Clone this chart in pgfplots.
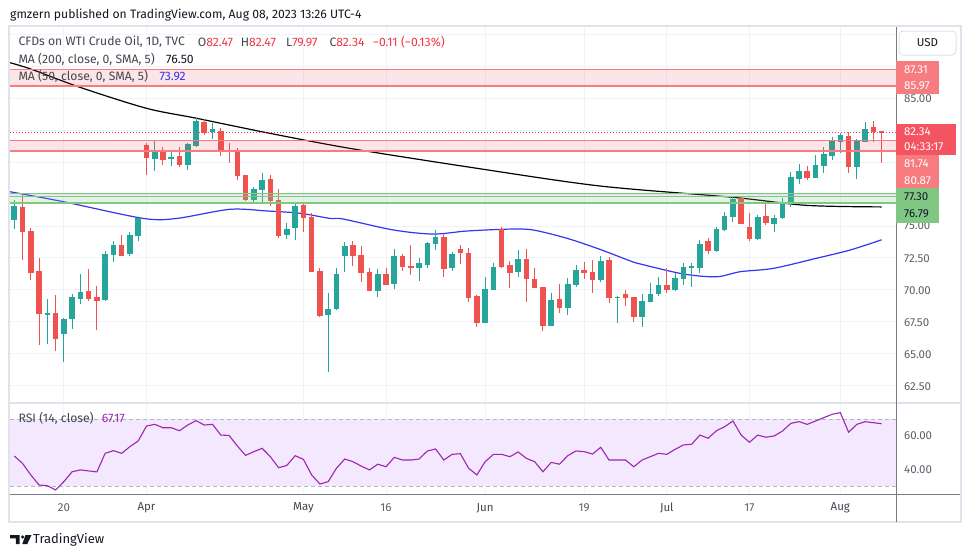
\documentclass[border=0pt]{standalone}
\usepackage{fontspec}
\setmainfont{Fira Sans}
\usepackage{pgfplots}
\usepackage{pgfplotstable}
\pgfplotsset{compat=1.18}

\definecolor{tvgreen}{HTML}{26A69A}
\definecolor{tvred}{HTML}{EF5350}
\definecolor{gridc}{HTML}{F0F3FA}
\definecolor{framec}{HTML}{E0E3EB}
\definecolor{scalec}{HTML}{787B86}
\definecolor{txt}{HTML}{131722}
\definecolor{legtxt}{HTML}{434651}
\definecolor{ticktxt}{HTML}{5D606B}
\definecolor{zonered}{HTML}{F77C80}
\definecolor{curred}{HTML}{F23645}
\definecolor{zonegreen}{HTML}{81C784}
\definecolor{ma50c}{HTML}{3535F2}
\definecolor{rsic}{HTML}{9C27B0}
\definecolor{rsifill}{HTML}{F3E8FD}
\definecolor{rsidash}{HTML}{B2B5BE}

% daily candles, index 0 = 10 Mar 2023, 105 = 8 Aug 2023
\pgfplotstableread{
i o h l c
0 75.47 77.04 74.76 76.57
4 68.04 69.27 65.75 68.18
6 66.55 67.81 64.36 67.71
7 67.73 69.67 66.95 69.45
8 69.30 71.24 68.90 69.82
11 69.20 73.04 69.14 72.80
12 72.75 73.82 72.20 73.51
14 72.83 74.55 72.67 74.29
15 74.24 75.65 73.85 75.60
17 80.28 81.75 79.31 80.96
19 80.28 80.88 79.73 80.41
21 79.78 81.53 79.39 81.45
22 81.30 83.45 81.22 83.26
24 82.37 83.10 81.82 82.61
29 77.02 78.04 76.78 77.88
30 77.82 79.18 76.73 78.61
33 74.29 75.21 73.98 74.74
34 74.84 76.83 73.90 76.57
38 68.02 69.72 63.57 68.49
39 68.51 71.68 68.40 71.24
40 72.65 73.77 71.42 73.46
44 69.93 71.63 69.45 71.24
46 70.47 73.17 70.06 72.65
49 71.73 72.47 70.71 72.10
50 71.94 73.77 71.73 73.69
51 73.59 74.69 73.12 74.16
53 71.71 72.98 71.50 72.80
57 67.42 70.97 67.42 70.06
58 70.00 72.12 69.98 71.78
61 71.42 73.12 71.02 72.41
65 67.18 69.77 67.18 69.20
67 68.59 70.90 68.02 70.45
68 70.37 71.94 70.24 71.55
71 70.76 72.65 70.60 72.25
73 69.38 69.48 67.42 69.43
76 67.89 69.67 67.10 69.12
77 69.06 70.53 69.02 69.67
78 69.67 71.00 69.49 70.35
80 69.98 71.29 69.88 70.90
81 70.84 72.07 70.37 71.81
82 71.68 72.12 70.24 71.89
83 71.73 73.90 71.29 73.59
85 73.07 74.95 72.98 74.76
86 74.71 76.07 74.63 75.78
87 75.73 77.25 75.34 77.14
90 74.00 75.86 73.90 75.70
92 75.18 75.86 74.55 75.60
93 75.60 77.17 75.55 76.73
94 76.90 79.24 76.51 78.84
95 78.71 79.86 78.29 79.31
97 78.79 80.57 78.74 79.78
98 79.73 81.22 79.13 80.65
99 80.51 82.00 80.18 81.75
100 81.61 82.27 80.70 82.16
102 79.65 81.80 78.69 81.67
103 81.61 83.16 81.61 82.61
}\upbars

\pgfplotstableread{
i o h l c
1 76.49 77.43 72.33 74.55
2 74.61 74.82 70.76 71.34
3 71.47 72.49 65.67 68.12
5 68.18 69.59 65.22 66.16
9 69.90 71.63 69.14 69.30
10 69.43 70.29 66.87 69.14
13 73.51 74.29 72.67 72.67
16 81.38 81.53 79.00 80.36
18 80.96 81.22 79.81 80.18
20 80.49 81.17 79.65 79.78
23 83.16 83.39 82.14 82.29
25 82.45 82.66 80.49 80.90
26 80.96 81.53 79.96 80.83
27 80.83 81.09 78.61 78.92
28 78.98 79.00 76.96 77.04
31 78.69 79.00 76.60 76.98
32 77.04 77.90 74.08 74.22
35 76.67 76.75 74.53 75.63
36 75.68 75.99 71.40 71.42
37 71.47 71.68 67.89 67.94
41 73.51 73.82 71.89 72.67
42 72.73 73.45 70.63 71.34
43 71.39 71.73 69.93 69.93
45 71.24 71.68 70.40 70.40
47 72.65 72.80 71.47 71.81
48 71.86 73.51 71.16 71.70
52 74.16 74.35 71.02 71.63
54 73.20 73.51 72.02 72.90
55 72.90 73.25 69.06 69.35
56 69.51 69.59 67.10 67.42
59 74.74 74.92 71.73 71.78
60 71.94 72.25 70.16 71.34
62 72.41 73.20 69.06 70.82
63 70.84 71.71 70.16 70.16
64 70.22 70.22 66.79 67.18
66 69.27 70.45 68.15 68.59
69 71.55 72.18 70.84 71.34
70 71.42 72.33 69.77 70.76
72 72.33 72.55 68.98 69.38
74 69.67 69.98 68.73 69.38
75 69.43 69.43 67.50 67.89
79 70.35 71.68 69.72 69.98
84 73.82 74.08 72.78 73.07
88 77.22 77.25 75.18 75.18
89 74.92 76.00 73.82 74.00
91 75.78 76.78 75.08 75.26
96 79.31 79.71 78.61 78.79
101 82.08 82.39 79.13 79.65
104 82.76 83.24 81.61 82.39
105 82.47 82.47 79.97 82.34
}\downbars

\pgfplotstableread{
i v
-0.52 87.81
2.11 87.29
7.95 85.88
16.03 84.23
22.08 83.45
30.56 82.32
40.64 81.09
55.78 79.55
70.90 78.14
87.05 77.25
95.93 76.62
105 76.50
}\masl

\pgfplotstableread{
i v
-0.52 77.69
5.93 76.91
15.6 75.60
19.7 75.60
26.1 76.31
30.6 76.18
34.6 76.00
38.2 75.60
39.8 75.55
45.9 74.69
50.7 74.37
54.8 74.61
60.0 74.76
62.8 74.69
66.9 74.04
70.9 73.17
74.5 72.28
75.8 72.02
81.0 71.24
85.0 71.02
87.9 71.42
91.9 71.68
97.1 72.47
101.2 73.12
105 73.92
}\mafs

\pgfplotstableread{
i r
0 47.9
1 43.5
2 36.6
3 30.6
4 30.2
5 27.6
6 32.6
7 38.5
8 39.6
9 39.0
10 38.4
11 49.5
12 51.1
13 49.5
14 53.5
15 56.9
16 65.8
17 66.8
18 64.8
19 64.8
20 63.0
21 66.4
22 69.0
23 66.4
24 66.8
25 60.4
26 60.2
27 53.9
28 48.3
29 50.5
30 52.5
31 47.5
32 40.9
33 42.3
34 48.1
35 45.9
36 36.6
37 31.2
38 32.6
39 40.6
40 46.1
41 44.5
42 41.9
43 39.6
44 43.0
45 41.5
46 47.1
47 45.5
48 45.5
49 46.1
50 50.9
51 52.1
52 45.5
53 48.9
54 49.3
55 40.6
56 36.6
57 44.5
58 48.9
59 48.9
60 47.5
61 50.3
62 46.5
63 44.5
64 38.5
65 44.1
66 43.0
67 48.1
68 50.9
69 50.5
70 49.1
71 53.1
72 45.5
73 45.5
74 45.5
75 41.5
76 45.5
77 47.5
78 49.5
79 48.9
80 51.9
81 54.5
82 54.9
83 60.4
84 58.5
85 63.0
86 65.4
87 68.8
88 60.4
89 56.1
90 60.4
91 59.1
92 59.9
93 62.8
94 67.4
95 68.4
96 66.8
97 68.8
98 70.8
99 72.8
100 73.8
101 62.1
102 66.8
103 68.4
104 67.8
105 67.17
}\rsi

\newcommand{\tvf}{\fontsize{11.5}{13}\selectfont}
\newcommand{\tvt}{\fontsize{12.2}{14}\selectfont}

\pgfplotsset{
  pane/.style={scale only axis, width=886pt, xmin=-0.52, xmax=106.74,
    enlargelimits=false, axis line style={draw=none}, major tick length=0pt,
    xticklabel=\empty, yticklabel=\empty,
    xtick={6,16,35,45,57,69,79,89,100},
    grid=major, major grid style={draw=gridc, line width=1pt},
    anchor=south west},
  wick/.style={only marks, mark size=0pt, mark options={draw=none, fill=none}, forget plot,
    error bars/.cd, y dir=both, y explicit, error mark=none,
    error bar style={draw=#1, line width=1pt}},
  body/.style={only marks, mark size=0pt, mark options={draw=none, fill=none}, forget plot,
    error bars/.cd, y dir=both, y explicit, error mark=none,
    error bar style={draw=#1, line width=5.6pt}},
}

\begin{document}
\begin{tikzpicture}
\useasboundingbox (0pt,0pt) rectangle (970pt,-557pt);
\fill[white] (0pt,0pt) rectangle (970pt,-557pt);

% ---- price pane
\begin{axis}[pane, at={(10pt,-403pt)}, height=376pt,
  ymin=61.12, ymax=90.61, ytick={62.5,65,...,90}]
\addplot[smooth, black, line width=1.2pt] table[x=i, y=v] {\masl};
\addplot[smooth, ma50c, line width=1.2pt] table[x=i, y=v] {\mafs};

\addplot[wick=tvgreen] table[x=i, y expr={(\thisrow{h}+\thisrow{l})/2},
  y error expr={(\thisrow{h}-\thisrow{l})/2}] {\upbars};
\addplot[body=tvgreen] table[x=i, y expr={(\thisrow{o}+\thisrow{c})/2},
  y error expr={max(abs(\thisrow{o}-\thisrow{c})/2,0.045)}] {\upbars};
\addplot[wick=tvred] table[x=i, y expr={(\thisrow{h}+\thisrow{l})/2},
  y error expr={(\thisrow{h}-\thisrow{l})/2}] {\downbars};
\addplot[body=tvred] table[x=i, y expr={(\thisrow{o}+\thisrow{c})/2},
  y error expr={max(abs(\thisrow{o}-\thisrow{c})/2,0.045)}] {\downbars};

% zones
\addplot[draw=none, fill=curred, fill opacity=0.13] coordinates
  {(-0.52,85.97) (106.74,85.97) (106.74,87.31) (-0.52,87.31)} -- cycle;
\addplot[zonered, line width=1pt] coordinates {(-0.52,87.31) (106.74,87.31)};
\addplot[zonered, line width=2pt] coordinates {(-0.52,85.97) (106.74,85.97)};
\addplot[draw=none, fill=curred, fill opacity=0.13] coordinates
  {(-0.52,80.87) (106.74,80.87) (106.74,81.74) (-0.52,81.74)} -- cycle;
\addplot[zonered, line width=1pt] coordinates {(-0.52,81.74) (106.74,81.74)};
\addplot[zonered, line width=2pt] coordinates {(-0.52,80.87) (106.74,80.87)};
\addplot[draw=none, fill=zonegreen, fill opacity=0.2] coordinates
  {(-0.52,76.79) (106.74,76.79) (106.74,77.53) (-0.52,77.53)} -- cycle;
\addplot[zonegreen, line width=1pt] coordinates {(-0.52,77.53) (106.74,77.53)};
\addplot[zonegreen, line width=1pt] coordinates {(-0.52,77.30) (106.74,77.30)};
\addplot[zonegreen, line width=2pt] coordinates {(-0.52,76.79) (106.74,76.79)};
\addplot[curred, line width=0.9pt, dash pattern=on 1pt off 2pt] coordinates
  {(-0.52,82.34) (106.74,82.34)};
\end{axis}

% ---- RSI pane
\begin{axis}[pane, at={(10pt,-494pt)}, height=91pt,
  ymin=25.22, ymax=79.55, ytick={40,60}]
\addplot[draw=none, fill=rsifill] coordinates
  {(-0.52,30) (106.74,30) (106.74,70) (-0.52,70)} -- cycle;
\addplot[rsidash, line width=0.8pt, dash pattern=on 4pt off 3pt] coordinates {(-0.52,70) (106.74,70)};
\addplot[rsidash, line width=0.8pt, dash pattern=on 4pt off 3pt] coordinates {(-0.52,30) (106.74,30)};
\addplot[rsic, line width=1.1pt] table[x=i, y=r] {\rsi};
\end{axis}

\begin{scope}[x=1pt, y=-1pt]
% frame and scales
\draw[framec, line width=2pt] (9,26) rectangle (961,522);
\draw[framec, line width=2pt] (10,403) -- (960,403);
\draw[scalec, line width=1pt] (896,27) -- (896,522);
\draw[scalec, line width=1pt] (10,494) -- (960,494);

% header
\node[anchor=west, text=txt, inner sep=0pt] at (10,15) {\tvt gmzern published on TradingView.com, Aug 08, 2023 13:26 UTC-4};

% legend
\node[anchor=west, text=legtxt, inner sep=0pt] at (18.3,42) {\tvt CFDs on WTI Crude Oil, 1D, TVC};
\node[anchor=west, inner sep=0pt] at (197.7,42) {\tvt\textcolor{legtxt}{O}\textcolor{curred}{82.47}};
\node[anchor=west, inner sep=0pt] at (240.7,42) {\tvt\textcolor{legtxt}{H}\textcolor{curred}{82.47}};
\node[anchor=west, inner sep=0pt] at (286,42) {\tvt\textcolor{legtxt}{L}\textcolor{curred}{79.97}};
\node[anchor=west, inner sep=0pt] at (329.3,42) {\tvt\textcolor{legtxt}{C}\textcolor{curred}{82.34}};
\node[anchor=west, text=curred, inner sep=0pt] at (372.7,42) {\tvt −0.11 (−0.13\%)};
\node[anchor=west, text=legtxt, inner sep=0pt] at (18.3,59) {\tvt MA (200, close, 0, SMA, 5)};
\node[anchor=west, text=txt, inner sep=0pt] at (166,59) {\tvt 76.50};
\node[anchor=west, text=legtxt, inner sep=0pt] at (18.3,76) {\tvt MA (50, close, 0, SMA, 5)};
\node[anchor=west, text=ma50c, inner sep=0pt] at (159.3,76) {\tvt 73.92};
\node[anchor=west, text=legtxt, inner sep=0pt] at (18.3,418) {\tvt RSI (14, close)};
\node[anchor=west, text=rsic, inner sep=0pt] at (101.7,418) {\tvt 67.17};

% price scale ticks
\foreach \v/\yy in {85.00/99, 75.00/226, 72.50/258.3, 70.00/290.7, 67.50/322.5, 65.00/354.4, 62.50/386.3, 60.00/435.5, 40.00/469.5}
  \node[anchor=west, text=ticktxt, inner sep=0pt] at (904,\yy) {\tvf\v};

% price scale boxes
\fill[zonered] (896,60.7) rectangle (939,94);
\node[anchor=west, text=white, inner sep=0pt] at (904,70) {\tvf 87.31};
\node[anchor=west, text=white, inner sep=0pt] at (904,86) {\tvf 85.97};
\fill[curred!85!white] (896,124.3) rectangle (956,155);
\node[anchor=west, text=white, inner sep=0pt] at (904,132) {\tvf 82.34};
\node[anchor=west, text=white, inner sep=0pt] at (904,147) {\tvf 04:33:17};
\fill[zonered] (896,155) rectangle (939,188.3);
\node[anchor=west, text=white, inner sep=0pt] at (904,164) {\tvf 81.74};
\node[anchor=west, text=white, inner sep=0pt] at (904,181) {\tvf 80.87};
\fill[zonegreen] (896,188.3) rectangle (939,222.7);
\node[anchor=west, text=txt, inner sep=0pt] at (904,197) {\tvf 77.30};
\node[anchor=west, text=txt, inner sep=0pt] at (904,214) {\tvf 76.79};
\draw[framec, line width=1pt, rounded corners=4pt] (899,31) rectangle (956,55);
\node[text=txt, inner sep=0pt] at (927.5,43) {\tvf USD};

% time axis labels
\foreach \xx/\t in {63.9/20, 386/16, 584.2/19, 749.4/17}
  \node[text=ticktxt, inner sep=0pt] at (\xx,508) {\tvf\t};
\foreach \xx/\t in {146.5/Apr, 303.4/May, 485.1/Jun, 666.8/Jul, 840.3/Aug}
  \node[text=legtxt, inner sep=0pt] at (\xx,508) {\tvf\t};

% footer logo
\fill[txt] (10,535) -- (19.5,535) -- (19.5,544) -- (15.8,544) -- (15.8,538.4) -- (10,538.4) -- cycle;
\fill[txt] (22.6,537) circle (1.8);
\fill[txt] (25.5,535) -- (31.5,535) -- (27.3,544) -- (22.3,544) -- cycle;
\node[anchor=west, text=txt, inner sep=0pt] at (33,539.5) {\fontsize{13}{15}\selectfont TradingView};
\end{scope}
\end{tikzpicture}
\end{document}
